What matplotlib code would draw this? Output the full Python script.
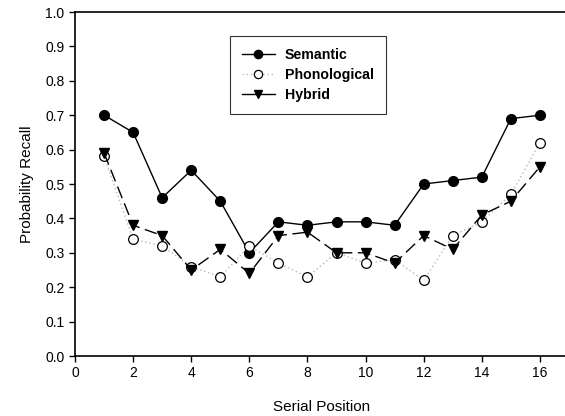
import matplotlib
matplotlib.use("Agg")
import matplotlib.pyplot as plt

plt.rcParams.update({
    "font.family": "Liberation Sans",
    "font.size": 10,
})

# ── data ──────────────────────────────────────────────────────────────────────
positions = list(range(1, 17))
semantic = [0.70, 0.65, 0.46, 0.54, 0.45, 0.30, 0.39, 0.38,
            0.39, 0.39, 0.38, 0.50, 0.51, 0.52, 0.69, 0.70]
phonological = [0.58, 0.34, 0.32, 0.26, 0.23, 0.32, 0.27, 0.23,
                0.30, 0.27, 0.28, 0.22, 0.35, 0.39, 0.47, 0.62]
hybrid = [0.59, 0.38, 0.35, 0.25, 0.31, 0.24, 0.35, 0.36,
          0.30, 0.30, 0.27, 0.35, 0.31, 0.41, 0.45, 0.55]

fig = plt.figure(figsize=(5.65, 4.16), dpi=100)
ax = fig.add_axes([75 / 565, 60 / 416, 494 / 565, 344 / 416])

ax.plot(positions, semantic, color="black", linewidth=1.0, marker="o",
        markersize=7, markerfacecolor="black", label="Semantic")
ax.plot(positions, phonological, color="#b8b8b8", linewidth=1.0, linestyle=(0, (1, 2)),
        marker="o", markersize=7, markerfacecolor="white", markeredgecolor="black",
        markeredgewidth=0.9, label="Phonological")
ax.plot(positions, hybrid, color="black", linewidth=1.0, linestyle=(0, (9, 4)),
        marker="v", markersize=7, markerfacecolor="black", label="Hybrid")

ax.set_xlim(0, 17)
ax.set_ylim(0, 1.0)
ax.set_xticks(range(0, 17, 2))
ax.set_yticks([i / 10 for i in range(11)])
ax.set_yticklabels([f"{i / 10:.1f}" for i in range(11)])
ax.tick_params(direction="out", length=4, width=1, labelsize=10)
for s in ax.spines.values():
    s.set_linewidth(1.2)

ax.set_xlabel("Serial Position", fontsize=11, labelpad=14)
ax.set_ylabel("Probability Recall", fontsize=11, labelpad=8)

leg = ax.legend(loc="upper left", bbox_to_anchor=(0.314, 0.93), frameon=True,
                fancybox=False, edgecolor="black", handlelength=2.3,
                handletextpad=0.7, markerscale=0.85, borderaxespad=0,
                prop={"weight": "bold", "size": 10.2}, borderpad=0.85,
                labelspacing=0.42)
leg.get_frame().set_linewidth(0.8)
leg.get_lines()[2].set_linestyle("-")

fig.savefig("out.png", dpi=100)
